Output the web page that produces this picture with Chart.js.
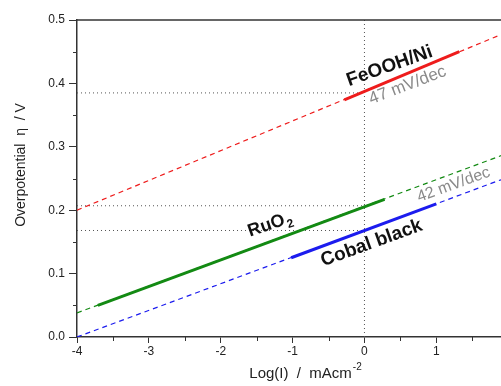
<!DOCTYPE html>
<html><head><meta charset="utf-8">
<script src="https://cdn.jsdelivr.net/npm/chart.js@4"></script>
<style>html,body{margin:0;padding:0;background:#fff}#wrap{width:501px;height:386px;position:relative}</style>
</head><body><div id="wrap"><canvas id="c" width="501" height="386"></canvas></div>
<script>
// ---- data ----
const xLimits = [-4, 1.9];
const yLimits = [0, 0.5];
const xTickValues = [-4, -3, -2, -1, 0, 1];
const xMinorValues = [-3.5, -2.5, -1.5, -0.5, 0.5, 1.5];
const yTickValues = [0, 0.1, 0.2, 0.3, 0.4, 0.5];
const yMinorValues = [0.05, 0.15, 0.25, 0.35, 0.45];

const feoohDashX = [-4, 1.9],    feoohDashY = [0.200, 0.477];
const feoohSolidX = [-0.28, 1.32], feoohSolidY = [0.374, 0.450];
const ruo2DashX = [-4, 1.9],     ruo2DashY = [0.038, 0.286];
const ruo2SolidX = [-3.71, 0.28], ruo2SolidY = [0.050, 0.217];
const cobalDashX = [-4, 1.9],    cobalDashY = [0.000, 0.248];
const cobalSolidX = [-1.02, 1.00], cobalSolidY = [0.125, 0.210];
const refLevels = [0.385, 0.207, 0.168];   // horizontal dotted guides (to log I = 0)
const refX = 0;                              // vertical dotted guide

const labelTexts = ['FeOOH/Ni', '47 mV/dec', 'RuO', 'Cobal black', '42 mV/dec'];
const labelX = [0.35, 0.60, -1.32, 0.10, 1.24];
const labelY = [0.427, 0.397, 0.177, 0.148, 0.240];

// ---- build ----
const pts = (xs, ys) => xs.map((x, i) => ({x, y: ys[i]}));
const RED = '#ee1c1c', GREEN = '#138a13', BLUE = '#1c1cee', DOT = '#555';

const datasets = [];
refLevels.forEach(v => datasets.push({data: pts([xLimits[0], refX], [v, v]), borderColor: DOT, borderWidth: 1, borderDash: [1, 3], order: 5}));
datasets.push({data: pts([refX, refX], yLimits), borderColor: DOT, borderWidth: 1, borderDash: [1, 3], order: 5});
datasets.push({data: pts(feoohDashX, feoohDashY), borderColor: RED, borderWidth: 1.2, borderDash: [5, 4], order: 3});
datasets.push({data: pts(ruo2DashX, ruo2DashY), borderColor: GREEN, borderWidth: 1.2, borderDash: [5, 4], order: 3});
datasets.push({data: pts(cobalDashX, cobalDashY), borderColor: BLUE, borderWidth: 1.2, borderDash: [5, 4], order: 3});
datasets.push({data: pts(feoohSolidX, feoohSolidY), borderColor: RED, borderWidth: 3, order: 1});
datasets.push({data: pts(ruo2SolidX, ruo2SolidY), borderColor: GREEN, borderWidth: 3, order: 1});
datasets.push({data: pts(cobalSolidX, cobalSolidY), borderColor: BLUE, borderWidth: 3, order: 1});
datasets.forEach(d => { d.showLine = true; d.pointRadius = 0; d.fill = false; });

const FONT = '"Liberation Sans", Arial, sans-serif';

const deco = {
  id: 'deco',
  afterDraw(chart) {
    const {ctx, chartArea: a, scales: {x, y}} = chart;
    ctx.save();
    ctx.strokeStyle = '#333'; ctx.lineWidth = 1.5;
    ctx.beginPath(); ctx.moveTo(a.left, a.top); ctx.lineTo(a.right, a.top); ctx.stroke();
    ctx.lineWidth = 1;
    ctx.beginPath();
    xMinorValues.forEach(v => { const p = Math.round(x.getPixelForValue(v)) + 0.5; ctx.moveTo(p, a.bottom); ctx.lineTo(p, a.bottom + 4); });
    yMinorValues.forEach(v => { const p = Math.round(y.getPixelForValue(v)) + 0.5; ctx.moveTo(a.left, p); ctx.lineTo(a.left - 4, p); });
    ctx.stroke();

    const styles = [
      {font: 'bold 19px ' + FONT, color: '#111', ang: -19.5},
      {font: '17px ' + FONT, color: '#8a8a8a', ang: -21},
      {font: 'bold 18px ' + FONT, color: '#111', ang: -19},
      {font: 'bold 19px ' + FONT, color: '#111', ang: -20},
      {font: '16px ' + FONT, color: '#8a8a8a', ang: -20}
    ];
    labelTexts.forEach((t, i) => {
      const s = styles[i];
      ctx.save();
      ctx.translate(x.getPixelForValue(labelX[i]), y.getPixelForValue(labelY[i]));
      ctx.rotate(s.ang * Math.PI / 180);
      ctx.fillStyle = s.color; ctx.font = s.font; ctx.textBaseline = 'middle';
      if (t === 'RuO') {
        const w1 = ctx.measureText(t).width;
        ctx.font = 'bold 12px ' + FONT;
        const w2 = ctx.measureText('2').width;
        const x0 = -(w1 + w2) / 2;
        ctx.font = s.font; ctx.textAlign = 'left';
        ctx.fillText(t, x0, 0);
        ctx.font = 'bold 12px ' + FONT;
        ctx.fillText('2', x0 + w1 + 1, 6);
      } else {
        ctx.textAlign = 'center';
        ctx.fillText(t, 0, 0);
      }
      ctx.restore();
    });

    // axis titles
    ctx.fillStyle = '#222';
    ctx.save();
    ctx.translate(21, 165); ctx.rotate(-Math.PI / 2);
    ctx.font = '14px ' + FONT; ctx.textAlign = 'center'; ctx.textBaseline = 'middle';
    ctx.fillText('Overpotential  η  / V', 0, 0);
    ctx.restore();

    ctx.font = '15px ' + FONT; ctx.textBaseline = 'alphabetic'; ctx.textAlign = 'left';
    const main = 'Log(I)  /  mAcm';
    const wm = ctx.measureText(main).width;
    ctx.font = '10px ' + FONT;
    const ws = ctx.measureText('-2').width;
    const x0 = 305 - (wm + ws) / 2;
    ctx.font = '15px ' + FONT;
    ctx.fillText(main, x0, 378);
    ctx.font = '10px ' + FONT;
    ctx.fillText('-2', x0 + wm + 1, 370);
    ctx.restore();
  }
};

new Chart(document.getElementById('c'), {
  type: 'scatter',
  data: {datasets},
  options: {
    responsive: false, animation: false,
    layout: {padding: {top: 20, right: 0, left: 0, bottom: 0}},
    plugins: {legend: {display: false}, tooltip: {enabled: false}},
    scales: {
      x: {
        type: 'linear', min: xLimits[0], max: xLimits[1],
        afterBuildTicks: s => { s.ticks = xTickValues.map(v => ({value: v})); },
        afterFit: s => { s.height = 49; },
        ticks: {font: {family: FONT, size: 12}, color: '#222', padding: 1, maxRotation: 0, callback: v => String(v)},
        grid: {drawOnChartArea: false, tickLength: 6, color: '#333', tickColor: '#333'},
        border: {color: '#333', width: 1.5}
      },
      y: {
        min: yLimits[0], max: yLimits[1],
        afterBuildTicks: s => { s.ticks = yTickValues.map(v => ({value: v})); },
        afterFit: s => { s.width = 77; },
        ticks: {font: {family: FONT, size: 12}, color: '#222', padding: 4, callback: v => v.toFixed(1)},
        grid: {drawOnChartArea: false, tickLength: 8, color: '#333', tickColor: '#333'},
        border: {color: '#333', width: 1.5}
      }
    }
  },
  plugins: [deco]
});
</script>
</body></html>
